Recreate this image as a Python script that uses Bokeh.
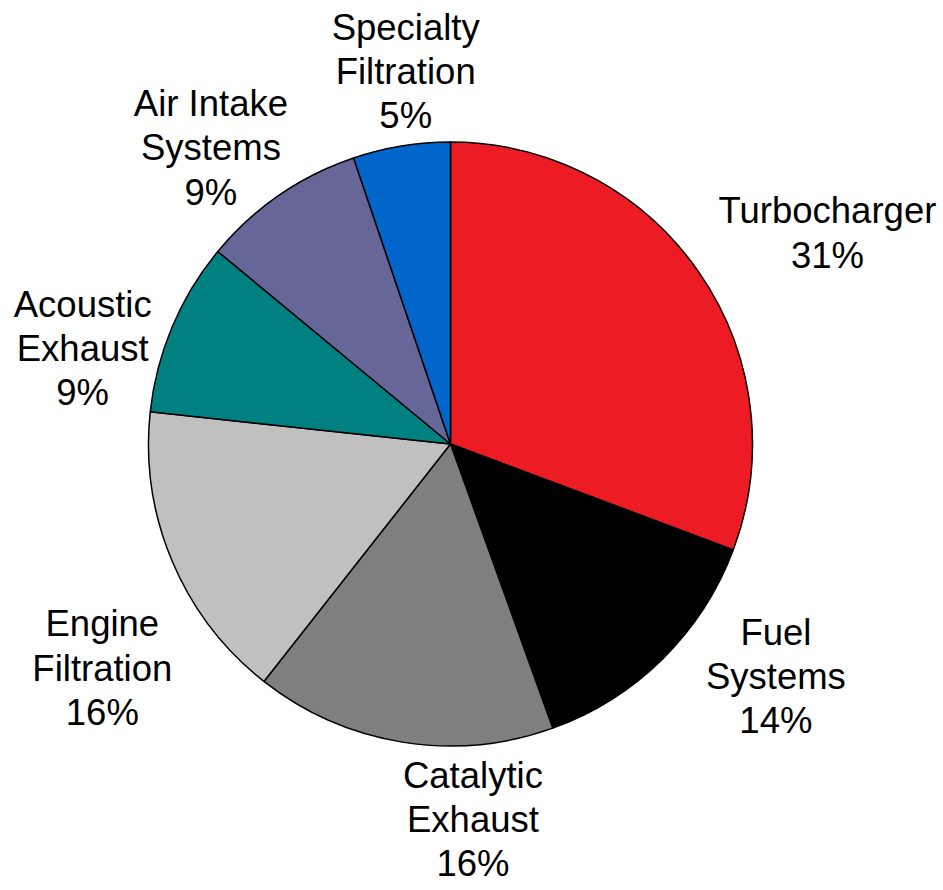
import numpy as np
from bokeh.plotting import figure
from bokeh.models import Range1d, ColumnDataSource
from bokeh.core.properties import value
from bokeh.embed import file_html
from bokeh.resources import INLINE

# ---- data ----
categories = ["Turbocharger", "Fuel Systems", "Catalytic Exhaust", "Engine Filtration",
              "Acoustic Exhaust", "Air Intake Systems", "Specialty Filtration"]
label_names = ["Turbocharger", "Fuel\nSystems", "Catalytic\nExhaust", "Engine\nFiltration",
               "Acoustic\nExhaust", "Air Intake\nSystems", "Specialty\nFiltration"]
shares = [30.7, 13.8, 16.1, 16.1, 9.3, 8.8, 5.2]
colors = ["#ED1C24", "#000000", "#7F7F7F", "#C0C0C0", "#008080", "#666699", "#0066CC"]

# ---- layout ----
W, H = 943, 890
cx, cy, R = 450.0, H - 443.5, 302.0
label_r = [432, 400, 376, 414, 380, 381, 375]
label_nudge_deg = [-5.5, 9.8, 12.6, 9.9, 8.3, 4.4, -2.5]

vals = np.array(shares, dtype=float)
frac = vals / vals.sum()
cum = np.concatenate([[0.0], np.cumsum(frac)])
start = np.pi / 2 - 2 * np.pi * cum[:-1]
end = np.pi / 2 - 2 * np.pi * cum[1:]
mid = (start + end) / 2

src = ColumnDataSource(dict(cat=categories, start=start, end=end, color=colors))

p = figure(width=W, height=H, output_backend="svg", toolbar_location=None,
           x_range=Range1d(0, W), y_range=Range1d(0, H), min_border=0,
           outline_line_color=None, background_fill_color="white")
p.axis.visible = False
p.xgrid.visible = False
p.ygrid.visible = False

p.wedge(x=cx, y=cy, radius=R, start_angle="start", end_angle="end", direction="clock",
        fill_color="color", line_color="black", line_width=1.5, source=src)

ang = mid + np.radians(label_nudge_deg)
lx = cx + np.array(label_r) * np.cos(ang)
ly = cy + np.array(label_r) * np.sin(ang)
texts = [f"{n}\n{round(v)}%" for n, v in zip(label_names, shares)]
lsrc = ColumnDataSource(dict(x=lx, y=ly, t=texts))
p.text(x="x", y="y", text="t", source=lsrc, text_align="center", text_baseline="middle",
       text_font=value("Liberation Sans"), text_font_size="36.5px", text_color="black",
       text_line_height=1.08)

open("out.html", "w").write(file_html(p, INLINE))
